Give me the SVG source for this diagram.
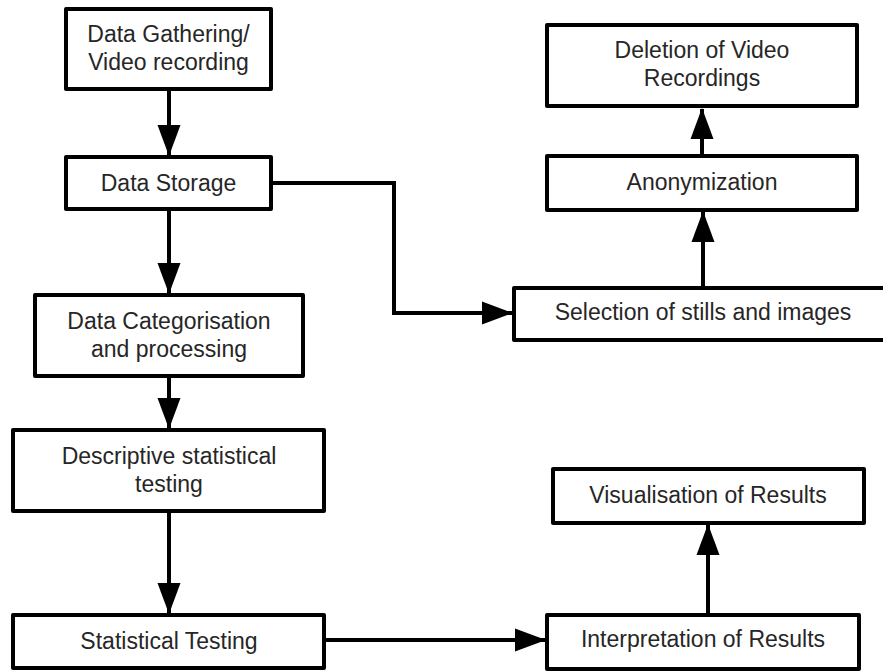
<svg xmlns="http://www.w3.org/2000/svg" width="883" height="671" viewBox="0 0 883 671">
<defs>
<style>
.box{fill:#fff;stroke:#000;stroke-width:4;stroke-linejoin:round}
.lbl{font-family:"Liberation Sans",Arial,sans-serif;font-size:23px;fill:#262626;text-anchor:middle}
.con{fill:none;stroke:#000;stroke-width:4;stroke-linejoin:miter}
</style>
<marker id="ah" markerUnits="userSpaceOnUse" markerWidth="31" markerHeight="24" viewBox="0 0 31 24" refX="30" refY="12" orient="auto">
<path d="M0,0.5 L31,12 L0,23.5 z" fill="#000"/>
</marker>
</defs>
<rect width="883" height="671" fill="#fff"/>
<g id="connectors">
<path class="con" d="M169,91 V155" marker-end="url(#ah)"/>
<path class="con" d="M169,211 V293" marker-end="url(#ah)"/>
<path class="con" d="M169,378 V428" marker-end="url(#ah)"/>
<path class="con" d="M169,513 V613" marker-end="url(#ah)"/>
<path class="con" d="M273,183 H394 V313 H512" marker-end="url(#ah)"/>
<path class="con" d="M703,286 V212" marker-end="url(#ah)"/>
<path class="con" d="M702,154 V109" marker-end="url(#ah)"/>
<path class="con" d="M326,640 H545" marker-end="url(#ah)"/>
<path class="con" d="M708,613 V525" marker-end="url(#ah)"/>
</g>
<g id="gathering">
<rect class="box" x="66" y="9" width="205" height="80"/>
<text class="lbl" x="168.5" y="42">Data Gathering/</text>
<text class="lbl" x="168.5" y="70">Video recording</text>
</g>
<g id="storage">
<rect class="box" x="66" y="157" width="205" height="52"/>
<text class="lbl" x="168.5" y="191">Data Storage</text>
</g>
<g id="categorisation">
<rect class="box" x="35" y="295" width="268" height="81"/>
<text class="lbl" x="169" y="329">Data Categorisation</text>
<text class="lbl" x="169" y="357">and processing</text>
</g>
<g id="descriptive">
<rect class="box" x="13" y="430" width="311" height="81"/>
<text class="lbl" x="169" y="464">Descriptive statistical</text>
<text class="lbl" x="169" y="492">testing</text>
</g>
<g id="statistical">
<rect class="box" x="13" y="615" width="311" height="53"/>
<text class="lbl" x="169" y="649">Statistical Testing</text>
</g>
<g id="deletion">
<rect class="box" x="547" y="25" width="310" height="81"/>
<text class="lbl" x="702" y="58">Deletion of Video</text>
<text class="lbl" x="702" y="86">Recordings</text>
</g>
<g id="anonymization">
<rect class="box" x="547" y="156" width="310" height="54"/>
<text class="lbl" x="702" y="190">Anonymization</text>
</g>
<g id="selection">
<rect class="box" x="514" y="288" width="380" height="52"/>
<text class="lbl" x="703" y="320">Selection of stills and images</text>
</g>
<g id="visualisation">
<rect class="box" x="553" y="469" width="311" height="54"/>
<text class="lbl" x="708" y="503">Visualisation of Results</text>
</g>
<g id="interpretation">
<rect class="box" x="547" y="615" width="312" height="54"/>
<text class="lbl" x="703" y="647">Interpretation of Results</text>
</g>
</svg>
